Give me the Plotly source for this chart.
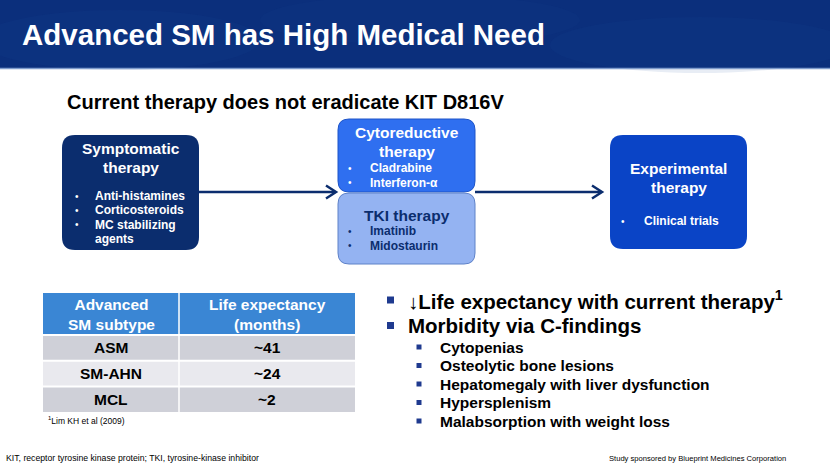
import plotly.graph_objects as go

# ---- data ----
title = "Advanced SM has High Medical Need"
subtitle = "Current therapy does not eradicate KIT D816V"

symptomatic_items = ["Anti-histamines", "Corticosteroids", "MC stabilizing", "agents"]
cytoreductive_items = ["Cladrabine", "Interferon-\u03b1"]
tki_items = ["Imatinib", "Midostaurin"]
experimental_items = ["Clinical trials"]

table_header = ["Advanced<br>SM subtype", "Life expectancy<br>(months)"]
subtypes = ["ASM", "SM-AHN", "MCL"]
life_expectancy = ["~41", "~24", "~2"]

main_points = ["\u2193Life expectancy with current therapy<sup>1</sup>", "Morbidity via C-findings"]
c_findings = ["Cytopenias", "Osteolytic bone lesions", "Hepatomegaly with liver dysfunction",
              "Hypersplenism", "Malabsorption with weight loss"]

FONT = "Liberation Sans, Arial, sans-serif"
NAVY = "#0b2d6e"

fig = go.Figure()
shapes = []
ann = []

def rrect(x0, y0, x1, y1, r, fill, line=None, lw=0):
    p = (f"M{x0+r},{y0} L{x1-r},{y0} Q{x1},{y0} {x1},{y0+r} L{x1},{y1-r} Q{x1},{y1} {x1-r},{y1} "
         f"L{x0+r},{y1} Q{x0},{y1} {x0},{y1-r} L{x0},{y0+r} Q{x0},{y0} {x0+r},{y0} Z")
    shapes.append(dict(type="path", path=p, xref="x", yref="y", fillcolor=fill,
                       line=dict(color=line or fill, width=lw), layer="below"))

def text(x, y, s, size, color="black", bold=True, xanchor="left"):
    ann.append(dict(x=x, y=y, xref="x", yref="y", text=(f"<b>{s}</b>" if bold else s),
                    showarrow=False, xanchor=xanchor, yanchor="middle",
                    font=dict(family=FONT, size=size, color=color)))

# header band
shapes.append(dict(type="rect", x0=0, y0=0, x1=830, y1=68, xref="x", yref="y",
                   fillcolor="#0b2f7c", line=dict(width=0), layer="below"))
for cx, cy, rx, ry, op in [(120, 40, 140, 30, 0.10), (420, 20, 160, 25, 0.08), (700, 45, 150, 28, 0.10)]:
    shapes.append(dict(type="circle", x0=cx-rx, x1=cx+rx, y0=cy-ry, y1=cy+ry, xref="x", yref="y",
                       fillcolor="#1b4a9a", opacity=op, line=dict(width=0), layer="below"))
shapes.append(dict(type="line", x0=0, x1=830, y0=68.5, y1=68.5, xref="x", yref="y",
                   line=dict(color="#7f9ccc", width=1.5)))
text(20, 34, title, 29.5, "white")

text(65, 102, subtitle, 20)

# flow boxes
rrect(62, 135, 199, 250, 13, NAVY)
text(130.5, 148, "Symptomatic", 15.5, "white", xanchor="center")
text(130.5, 167, "therapy", 15.5, "white", xanchor="center")
for i, s in enumerate(symptomatic_items):
    y = 196 + i * 14.3
    if s != "agents":
        text(77, y, "\u2022", 10, "white", bold=False, xanchor="center")
    text(93, y, s, 12, "white")

rrect(338, 119, 475, 192, 11, "#2f6ff0", "#1f55c8", 1)
text(406.5, 132, "Cytoreductive", 15.5, "white", xanchor="center")
text(406.5, 151, "therapy", 15.5, "white", xanchor="center")
for i, s in enumerate(cytoreductive_items):
    y = 168 + i * 14.5
    text(350, y, "\u2022", 10, "white", bold=False, xanchor="center")
    text(368, y, s, 12, "white")

rrect(338, 193, 475, 264, 11, "#94b3f2", "#5f82c8", 1)
text(406.5, 215, "TKI therapy", 15.5, NAVY, xanchor="center")
for i, s in enumerate(tki_items):
    y = 231 + i * 14.5
    text(350, y, "\u2022", 10, NAVY, bold=False, xanchor="center")
    text(368, y, s, 12, NAVY)

rrect(610, 135, 747, 249, 13, "#0a44c6")
text(678.5, 168, "Experimental", 15.5, "white", xanchor="center")
text(678.5, 187, "therapy", 15.5, "white", xanchor="center")
for s in experimental_items:
    text(623, 221, "\u2022", 10, "white", bold=False, xanchor="center")
    text(642, 221, s, 12, "white")

# arrows (line + open chevron head)
for x0, x1 in [(199, 336), (475, 602)]:
    shapes.append(dict(type="line", x0=x0, x1=x1 - 1, y0=192, y1=192, xref="x", yref="y",
                       line=dict(color=NAVY, width=2.5)))
    shapes.append(dict(type="path", path=f"M{x1-10},{185.5} L{x1},{192} L{x1-10},{198.5}",
                       xref="x", yref="y", line=dict(color=NAVY, width=2.5)))

# table
tx0, tsplit, tx1 = 43, 179, 355
hy0, hy1 = 293, 335
shapes.append(dict(type="rect", x0=tx0, x1=tx1, y0=hy0, y1=hy1, xref="x", yref="y",
                   fillcolor="#3a86d4", line=dict(width=0), layer="below"))
text((tx0 + tsplit) / 2, (hy0 + hy1) / 2, table_header[0], 15.5, "white", xanchor="center")
text((tsplit + tx1) / 2, (hy0 + hy1) / 2, table_header[1], 15.5, "white", xanchor="center")
row_h = 25.7
row_colors = ["#cfd0d8", "#e9e9ee", "#cfd0d8"]
for i, (sub, le) in enumerate(zip(subtypes, life_expectancy)):
    y0 = hy1 + i * row_h
    y1 = y0 + row_h
    shapes.append(dict(type="rect", x0=tx0, x1=tx1, y0=y0, y1=y1, xref="x", yref="y",
                       fillcolor=row_colors[i], line=dict(width=0), layer="below"))
    text((tx0 + tsplit) / 2, (y0 + y1) / 2, sub, 15.5, "black", xanchor="center")
    text((tsplit + tx1) / 2, (y0 + y1) / 2, le, 15.5, "black", xanchor="center")
tend = hy1 + 3 * row_h
for i in range(3):
    yy = hy1 + i * row_h
    shapes.append(dict(type="line", x0=tx0, x1=tx1, y0=yy, y1=yy, xref="x", yref="y",
                       line=dict(color="white", width=2)))
shapes.append(dict(type="line", x0=tsplit, x1=tsplit, y0=hy0, y1=tend, xref="x", yref="y",
                   line=dict(color="white", width=1.5)))
text(46, 420, "<sup>1</sup>Lim KH et al (2009)", 8.5, "black", bold=False)

# right bullets
for i, s in enumerate(main_points):
    y = 300 + i * 25.5
    shapes.append(dict(type="rect", x0=387, x1=394, y0=y - 3.5, y1=y + 3.5, xref="x", yref="y",
                       fillcolor="#1f3a8f", line=dict(width=0)))
    text(406, y, s, 20.5)
for i, s in enumerate(c_findings):
    y = 347 + i * 18.5
    shapes.append(dict(type="rect", x0=416.5, x1=421.5, y0=y - 2.5, y1=y + 2.5, xref="x", yref="y",
                       fillcolor="#1f3a8f", line=dict(width=0)))
    text(438, y, s, 15.5)

# footer
text(4, 458, "KIT, receptor tyrosine kinase protein; TKI, tyrosine-kinase inhibitor", 8.7, bold=False)
text(788, 458, "Study sponsored by Blueprint Medicines Corporation", 7.6, bold=False, xanchor="right")

fig.update_layout(
    width=830, height=467, autosize=False,
    margin=dict(l=0, r=0, t=0, b=0),
    paper_bgcolor="white", plot_bgcolor="white",
    xaxis=dict(range=[0, 830], visible=False, fixedrange=True),
    yaxis=dict(range=[467, 0], visible=False, fixedrange=True),
    shapes=shapes, annotations=ann, showlegend=False,
)
fig.write_html("out.html", config={"displayModeBar": False},
               post_script="document.body.style.margin='0';document.body.style.overflow='hidden';")
